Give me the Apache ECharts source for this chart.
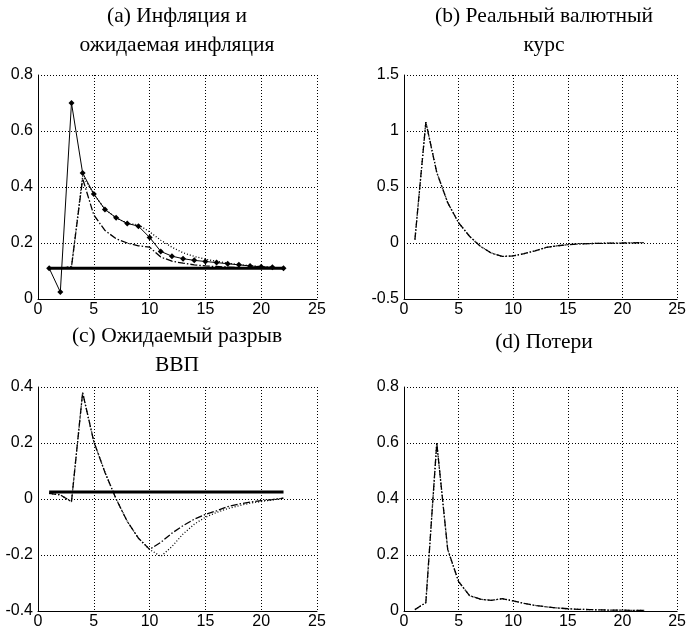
<!DOCTYPE html>
<html>
<head>
<meta charset="utf-8">
<script src="https://cdn.jsdelivr.net/npm/echarts@6/dist/echarts.min.js"></script>
<style>
  html, body { margin: 0; padding: 0; background: #fff; }
  #chart { width: 689px; height: 634px; }
</style>
</head>
<body>
<div id="chart"></div>
<script>
;(function () {
  'use strict';

  // periods 1..22
  var periods = [1, 2, 3, 4, 5, 6, 7, 8, 9, 10, 11, 12, 13, 14, 15, 16, 17, 18, 19, 20, 21, 22];

  // (a) inflation and expected inflation
  var inflation = [0.11, 0.025, 0.70, 0.45, 0.375, 0.32, 0.29, 0.27, 0.26, 0.22, 0.17, 0.153, 0.144, 0.138, 0.134, 0.13, 0.126, 0.122, 0.118, 0.115, 0.113, 0.11];
  var expInflation = [0.11, 0.11, 0.115, 0.43, 0.30, 0.245, 0.215, 0.20, 0.19, 0.185, 0.15, 0.135, 0.128, 0.122, 0.118, 0.116, 0.114, 0.112, 0.111, 0.11, 0.11, 0.11];
  var expInflationAlt = [0.11, 0.11, 0.115, 0.44, 0.375, 0.32, 0.29, 0.27, 0.265, 0.24, 0.21, 0.185, 0.165, 0.152, 0.142, 0.135, 0.128, 0.123, 0.119, 0.116, 0.113, 0.111];
  var inflationTarget = 0.11;

  // (b) real exchange rate
  var exchangeRate = [0.03, 1.08, 0.63, 0.36, 0.18, 0.06, -0.03, -0.09, -0.12, -0.115, -0.095, -0.07, -0.04, -0.025, -0.015, -0.008, -0.005, -0.003, -0.001, 0, 0.002, 0.003];

  // (c) expected output gap
  var outputGap = [0.02, 0.015, -0.01, 0.38, 0.205, 0.095, 0.0, -0.08, -0.14, -0.18, -0.155, -0.122, -0.095, -0.072, -0.055, -0.042, -0.027, -0.018, -0.011, -0.006, -0.002, 0.003];
  var outputGapAlt = [0.02, 0.015, -0.01, 0.38, 0.205, 0.095, 0.0, -0.08, -0.14, -0.18, -0.205, -0.17, -0.125, -0.09, -0.065, -0.048, -0.034, -0.024, -0.015, -0.009, -0.003, 0.003];
  var gapTarget = 0.025;

  // (d) losses
  var losses = [0.005, 0.03, 0.60, 0.22, 0.105, 0.055, 0.042, 0.038, 0.044, 0.036, 0.027, 0.02, 0.015, 0.011, 0.008, 0.006, 0.005, 0.004, 0.003, 0.003, 0.002, 0.002];

  var titles = [
    '(a) Инфляция и\nожидаемая инфляция',
    '(b) Реальный валютный\nкурс',
    '(c) Ожидаемый разрыв\nВВП',
    '(d) Потери'
  ];
  var yRanges = [[0, 0.8, 0.2], [-0.5, 1.5, 0.5], [-0.4, 0.4, 0.2], [0, 0.8, 0.2]];

  var grids = [
    { left: 38, top: 75, width: 279, height: 224 },
    { left: 404, top: 75, width: 279, height: 224 },
    { left: 38, top: 387, width: 279, height: 224 },
    { left: 404, top: 387, width: 279, height: 224 }
  ];
  var titlePos = [[177, 2], [544, 2], [177, 322], [544, 328]];

  var DASHDOT = [7, 2, 1.5, 2];
  var DOT = [1, 2];
  var labelFont = '"Liberation Sans Narrow", "Liberation Sans", Arial, sans-serif';

  function pairs(values) {
    return periods.map(function (p, i) { return [p, values[i]]; });
  }

  function flat(value) {
    return [[periods[0], value], [periods[periods.length - 1], value]];
  }

  function line(idx, data, type, width, extra) {
    var s = {
      type: 'line',
      xAxisIndex: idx,
      yAxisIndex: idx,
      data: data,
      symbol: 'none',
      silent: true,
      lineStyle: { color: '#000', width: width || 1, type: type || 'solid' }
    };
    return Object.assign(s, extra || {});
  }

  var xAxes = grids.map(function (g, i) {
    return {
      type: 'value', gridIndex: i, min: 0, max: 25, interval: 5,
      axisLine: { show: true, onZero: false, lineStyle: { color: '#000', width: 1 } },
      axisTick: { show: false },
      axisLabel: { color: '#000', fontSize: 16, fontFamily: labelFont, margin: 3 },
      splitLine: { show: true, lineStyle: { color: '#000', type: DOT, width: 1 } }
    };
  });

  var yAxes = grids.map(function (g, i) {
    return {
      type: 'value', gridIndex: i,
      min: yRanges[i][0], max: yRanges[i][1], interval: yRanges[i][2],
      axisLine: { show: true, onZero: false, lineStyle: { color: '#000', width: 1 } },
      axisTick: { show: false },
      axisLabel: { color: '#000', fontSize: 16, fontFamily: labelFont, margin: 5 },
      splitLine: { show: true, lineStyle: { color: '#000', type: DOT, width: 1 } }
    };
  });

  var series = [
    line(0, flat(inflationTarget), 'solid', 3),
    line(0, pairs(expInflationAlt), DOT, 1.3),
    line(0, pairs(expInflation), DASHDOT, 1.3),
    line(0, pairs(inflation), 'solid', 1, {
      symbol: 'diamond', symbolSize: 6,
      itemStyle: { color: '#000' }
    }),
    line(1, pairs(exchangeRate), DOT, 1.3),
    line(1, pairs(exchangeRate), DASHDOT, 1.3),
    line(2, flat(gapTarget), 'solid', 3),
    line(2, pairs(outputGapAlt), DOT, 1.3),
    line(2, pairs(outputGap), DASHDOT, 1.3),
    line(3, pairs(losses), DOT, 1.3),
    line(3, pairs(losses), DASHDOT, 1.3)
  ];

  var graphic = titles.map(function (t, i) {
    return {
      type: 'text',
      x: titlePos[i][0],
      y: titlePos[i][1],
      silent: true,
      style: {
        text: t,
        textAlign: 'center',
        textVerticalAlign: 'top',
        fill: '#000',
        font: '21.5px "Liberation Serif", "Times New Roman", serif',
        lineHeight: 29
      }
    };
  });

  var chart = echarts.init(document.getElementById('chart'));
  chart.setOption({
    animation: false,
    backgroundColor: '#fff',
    grid: grids,
    xAxis: xAxes,
    yAxis: yAxes,
    series: series,
    graphic: graphic
  });
})();
</script>
</body>
</html>
